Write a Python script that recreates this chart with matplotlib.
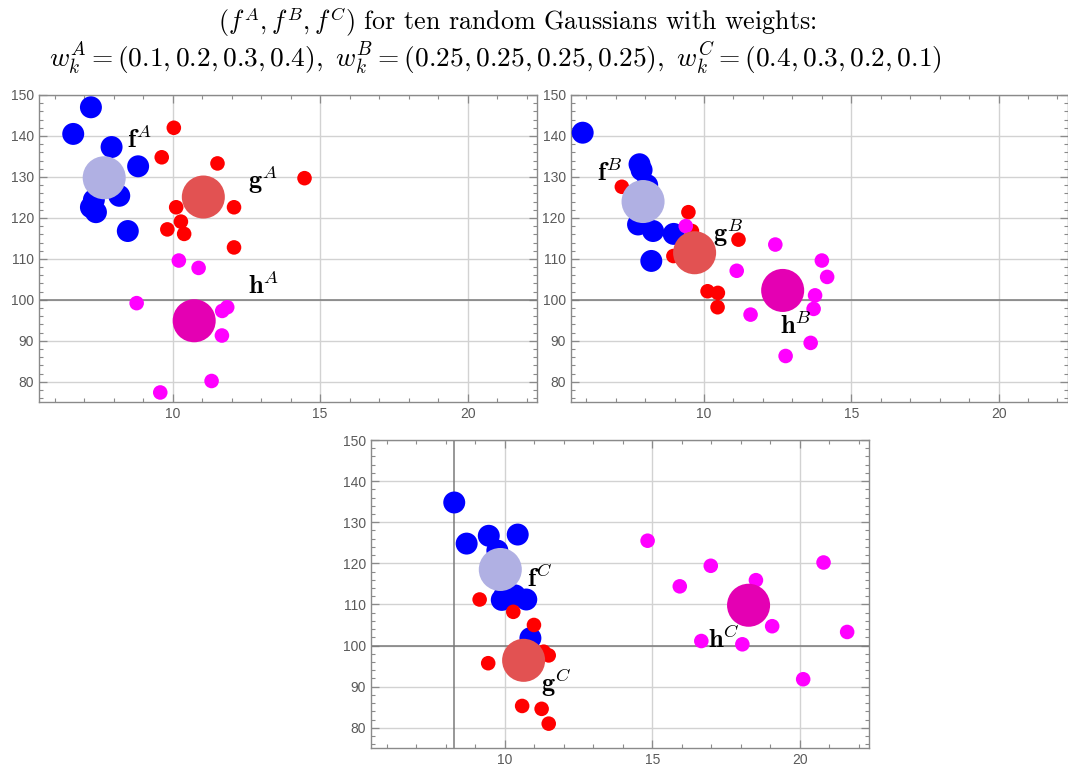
import matplotlib
matplotlib.use("Agg")
import matplotlib.pyplot as plt
from matplotlib.ticker import MultipleLocator
import numpy as np

plt.rcParams['mathtext.fontset'] = 'cm'

# ---------------- data ----------------
# Panel A
fA_x = [7.23, 6.63, 7.93, 8.83, 8.19, 7.33, 7.23, 7.40, 8.48, 7.65]
fA_y = [147.0, 140.5, 137.3, 132.6, 125.4, 124.4, 122.6, 121.4, 116.8, 128.0]
gA_x = [10.04, 9.63, 11.52, 14.47, 10.12, 12.08, 10.28, 9.82, 10.39, 12.08]
gA_y = [142.0, 134.8, 133.3, 129.7, 122.6, 122.6, 119.1, 117.2, 116.1, 112.8]
hA_x = [10.21, 10.88, 8.78, 11.68, 11.85, 11.67, 11.32, 9.58, 10.60, 10.90]
hA_y = [109.6, 107.8, 99.2, 97.3, 98.2, 91.3, 80.2, 77.4, 95.5, 94.0]
meanA_x = [7.68, 11.04, 10.73]
meanA_y = [129.8, 125.1, 94.9]

# Panel B
fB_x = [5.88, 7.81, 7.88, 8.07, 7.76, 8.27, 8.97, 8.21, 8.10, 8.00]
fB_y = [140.8, 133.1, 131.7, 128.0, 118.4, 116.8, 116.1, 109.5, 123.5, 122.0]
gB_x = [7.21, 9.47, 9.59, 11.17, 8.96, 10.12, 10.47, 10.46, 9.60, 9.75]
gB_y = [127.6, 121.4, 116.8, 114.7, 110.7, 102.1, 101.7, 98.2, 112.0, 109.8]
hB_x = [9.38, 12.42, 14.00, 11.11, 14.18, 13.77, 13.72, 11.58, 13.62, 12.77]
hB_y = [118.0, 113.5, 109.6, 107.1, 105.6, 101.1, 97.8, 96.4, 89.5, 86.3]
meanB_x = [7.93, 9.68, 12.67]
meanB_y = [124.0, 111.5, 102.3]

# Panel C
fC_x = [8.29, 8.71, 9.46, 10.44, 9.75, 9.90, 10.35, 10.73, 10.87, 10.00]
fC_y = [134.8, 124.8, 126.7, 127.0, 123.1, 111.1, 112.2, 111.2, 101.8, 112.3]
gC_x = [9.15, 10.29, 10.99, 11.49, 11.32, 9.44, 10.59, 11.25, 11.49, 10.40]
gC_y = [111.2, 108.2, 105.0, 97.6, 98.5, 95.7, 85.3, 84.6, 81.0, 96.9]
hC_x = [14.84, 15.93, 16.98, 18.51, 20.80, 19.06, 21.60, 16.66, 18.05, 20.11]
hC_y = [125.5, 114.4, 119.4, 115.9, 120.2, 104.7, 103.3, 101.1, 100.3, 91.8]
meanC_x = [9.85, 10.64, 18.26]
meanC_y = [118.5, 96.4, 109.8]

labels_A = [r"$\mathbf{f}^{A}$", r"$\mathbf{g}^{A}$", r"$\mathbf{h}^{A}$"]
labels_B = [r"$\mathbf{f}^{B}$", r"$\mathbf{g}^{B}$", r"$\mathbf{h}^{B}$"]
labels_C = [r"$\mathbf{f}^{C}$", r"$\mathbf{g}^{C}$", r"$\mathbf{h}^{C}$"]
label_pos_A = [(8.44, 137.0), (12.56, 127.0), (12.56, 101.4)]
label_pos_B = [(6.36, 129.1), (10.32, 114.2), (12.59, 91.6)]
label_pos_C = [(10.77, 114.3), (11.23, 88.8), (16.88, 99.3)]

title_line1 = r"$(f^{A},f^{B},f^{C})$ for ten random Gaussians with weights:"
title_line2 = r"$w_k^{A}=(0.1,0.2,0.3,0.4),\ w_k^{B}=(0.25,0.25,0.25,0.25),\ w_k^{C}=(0.4,0.3,0.2,0.1)$"

# ---------------- style ----------------
small_colors = ['#0000ff', '#ff0000', '#ff00ff']
small_sizes = [250, 110, 110]
big_colors = ['#b0b0e3', '#e25252', '#e400b3']
big_size = 960
frame_col = '#8a8a8a'
grid_col = '#d2d2d2'
tick_lab_col = '#5a5a5a'

W, H = 1068, 771
fig = plt.figure(figsize=(W / 100, H / 100), dpi=100)

def px_axes(left, top, right, bottom):
    return fig.add_axes([left / W, 1 - bottom / H, (right - left) / W, (bottom - top) / H])

def draw_panel(ax, fx, fy, gx, gy, hx, hy, mx, my, labels, lpos, vaxis=None):
    ax.set_xlim(5.47, 22.34)
    ax.set_ylim(75, 150)
    ax.set_xticks([10, 15, 20])
    ax.set_yticks(np.arange(80, 151, 10))
    ax.xaxis.set_minor_locator(MultipleLocator(1))
    ax.yaxis.set_minor_locator(MultipleLocator(2))
    ax.grid(True, which='major', color=grid_col, lw=1.0, zorder=0)
    ax.set_axisbelow(True)
    for s in ax.spines.values():
        s.set_color(frame_col)
        s.set_linewidth(1.0)
    ax.tick_params(which='both', direction='in', top=True, right=True,
                   color=frame_col, labelcolor=tick_lab_col, labelsize=10)
    ax.tick_params(which='major', length=6, width=0.9)
    ax.tick_params(which='minor', length=3, width=0.8)
    for lab in ax.get_xticklabels() + ax.get_yticklabels():
        lab.set_family('Liberation Sans')
    ax.axhline(100, color='#7a7a7a', lw=1.1, zorder=1)
    if vaxis is not None:
        ax.axvline(vaxis, color='#7a7a7a', lw=1.1, zorder=1)
    for (x, y), c, s in zip([(fx, fy), (gx, gy), (hx, hy)], small_colors, small_sizes):
        ax.scatter(x, y, s=s, color=c, edgecolors='none', zorder=3, clip_on=True)
    ax.scatter(mx, my, s=big_size, c=big_colors, edgecolors='none', zorder=4)
    for t, (x, y) in zip(labels, lpos):
        ax.text(x, y, t, fontsize=19, ha='left', va='baseline', color='black', zorder=5)

axA = px_axes(39, 95, 536.7, 402.3)
draw_panel(axA, fA_x, fA_y, gA_x, gA_y, hA_x, hA_y, meanA_x, meanA_y, labels_A, label_pos_A)
axB = px_axes(570.6, 95, 1067.5, 402.3)
draw_panel(axB, fB_x, fB_y, gB_x, gB_y, hB_x, hB_y, meanB_x, meanB_y, labels_B, label_pos_B)
axC = px_axes(371, 440, 869, 748.3)
draw_panel(axC, fC_x, fC_y, gC_x, gC_y, hC_x, hC_y, meanC_x, meanC_y, labels_C, label_pos_C, vaxis=8.28)

fig.text(517 / W, 1 - 22 / H, title_line1, ha='center', va='center', fontsize=18.7,
         family=['cmr10', 'DejaVu Serif'])
fig.text(495 / W, 1 - 58 / H, title_line2, ha='center', va='center', fontsize=19.7)

fig.savefig('out.png', dpi=100)
